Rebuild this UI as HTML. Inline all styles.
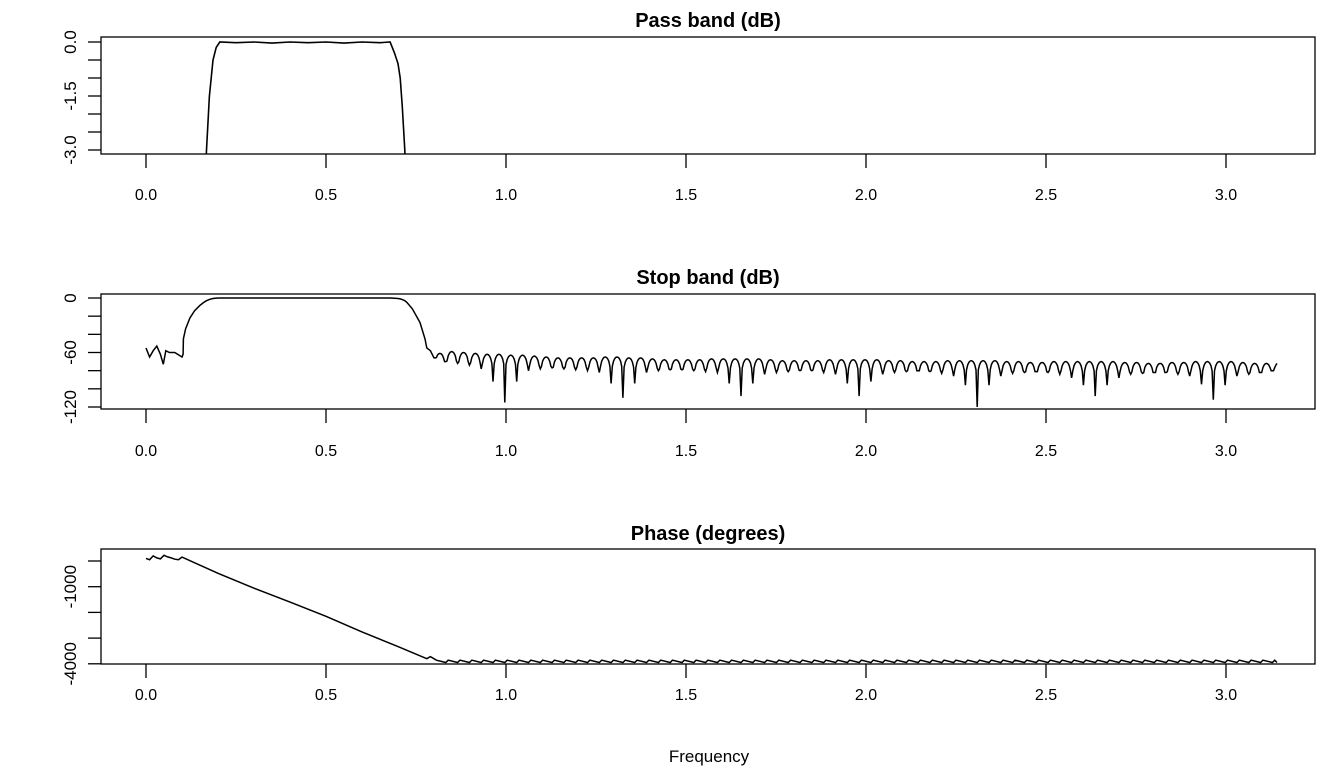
<!DOCTYPE html>
<html><head><meta charset="utf-8">
<style>
html,body{margin:0;padding:0;background:#fff;}
svg{display:block;font-family:"Liberation Sans",Arial,sans-serif;}
</style></head>
<body>
<svg id="chart" width="1344" height="768" viewBox="0 0 1344 768" xmlns="http://www.w3.org/2000/svg"></svg>
<script>
// ---- data ----
const xTicks = [0.0, 0.5, 1.0, 1.5, 2.0, 2.5, 3.0];
const xTickLabels = ["0.0", "0.5", "1.0", "1.5", "2.0", "2.5", "3.0"];
// transition-region magnitude (dB)
const magFreq = [0, 0.01, 0.02, 0.03, 0.04, 0.048, 0.055, 0.065, 0.08, 0.1, 0.103, 0.104, 0.11, 0.122, 0.135, 0.15, 0.16, 0.168, 0.176, 0.186, 0.195, 0.205, 0.25, 0.3, 0.35, 0.4, 0.45, 0.5, 0.55, 0.6, 0.65, 0.678, 0.69, 0.7, 0.706, 0.712, 0.719, 0.725, 0.74, 0.761, 0.775, 0.78, 0.79];
const magDb = [-55, -65, -58, -53, -62, -73, -58, -60, -60, -65, -62, -45, -34, -22, -14, -8, -5, -3, -1.5, -0.5, -0.15, 0, -0.02, 0, -0.03, 0, -0.02, 0, -0.03, 0, -0.02, 0, -0.3, -0.6, -1, -1.8, -3, -5, -12, -27, -45, -55, -58];
// stop-band lobes: nulls start at stopStart with spacing stopStep
const stopStart = 0.8;
const stopStep = 0.0328;
const stopEnd = 3.1416;
const nullDb = [-66,-70,-72,-74,-78,-92,-115,-92,-80,-78,-77,-78,-79,-80,-82,-94,-110,-94,-82,-80,-79,-79,-80,-81,-82,-94,-108,-94,-84,-82,-81,-80,-80,-82,-84,-94,-108,-92,-84,-82,-81,-80,-81,-83,-86,-96,-120,-96,-86,-83,-82,-81,-82,-84,-88,-96,-108,-96,-88,-84,-83,-82,-82,-84,-86,-95,-112,-96,-86,-84,-82,-80];
const peakDb = [-61,-59,-60,-61,-62,-62,-63,-63,-64,-65,-66,-66,-66,-66,-65,-65,-66,-66,-67,-68,-68,-68,-68,-67,-67,-67,-67,-67,-68,-69,-69,-69,-69,-68,-68,-68,-68,-68,-69,-69,-70,-70,-70,-69,-69,-69,-69,-69,-70,-70,-71,-71,-70,-70,-70,-70,-70,-70,-71,-71,-72,-72,-71,-71,-70,-70,-70,-70,-71,-72,-72,-72];
// phase (degrees)
const phaseFreq = [0, 0.01, 0.02, 0.03, 0.04, 0.05, 0.06, 0.07, 0.08, 0.09, 0.1, 0.2, 0.3, 0.4, 0.5, 0.6, 0.7, 0.78, 0.79];
const phaseDeg = [100, 50, 200, 120, 80, 220, 160, 120, 70, 50, 150, -480, -1060, -1600, -2150, -2760, -3330, -3800, -3720];
const stopPhaseHigh = -3860;
const stopPhaseLow = -3950;

// ---- layout ----
const svg = document.getElementById('chart');
const NS = 'http://www.w3.org/2000/svg';
const X0 = 101, X1 = 1315;
const xs = f => 146 + f * 360;
function mk(tag, attrs, parent) {
  const e = document.createElementNS(NS, tag);
  for (const k in attrs) e.setAttribute(k, attrs[k]);
  (parent || svg).appendChild(e);
  return e;
}
function panel(name, title, top, bottom, yTicksPx, yLabels, titleY, xLabelY) {
  const g = mk('g', {});
  
  
  const r = mk('rect', {x: X0, y: top, width: X1 - X0, height: bottom - top, fill: 'none', stroke: '#000', 'stroke-width': 1.3}, g);
  
  
  const t = mk('text', {x: 708, y: titleY, 'text-anchor': 'middle', 'font-size': 20, 'font-weight': 'bold'}, g);
  t.textContent = title;
  
  
  xTicks.forEach((v, i) => {
    const x = xs(v);
    const tk = mk('line', {x1: x, x2: x, y1: bottom, y2: bottom + 14, stroke: '#000', 'stroke-width': 1.3}, g);
    
    
    const tl = mk('text', {x: x, y: xLabelY, 'text-anchor': 'middle', 'font-size': 16}, g);
    tl.textContent = xTickLabels[i];
    
    
  });
  yTicksPx.forEach(y => {
    const tk = mk('line', {x1: 88, x2: X0, y1: y, y2: y, stroke: '#000', 'stroke-width': 1.3}, g);
    
    
  });
  yLabels.forEach(l => {
    const tl = mk('text', {x: 0, y: 0, 'text-anchor': 'middle', 'font-size': 17, transform: 'translate(76,' + l[1] + ') rotate(-90)'}, g);
    tl.textContent = l[0];
    
    
  });
  return g;
}
function clipFor(id, top, bottom) {
  const cp = mk('clipPath', {id: id});
  mk('rect', {x: X0, y: top, width: X1 - X0, height: bottom - top}, cp);
}
function stopBandPoints(ys) {
  const pts = magFreq.map((f, i) => [xs(f), ys(magDb[i])]);
  nullDb.forEach((nd, j) => {
    const f0 = stopStart + j * stopStep;
    const f1 = Math.min(f0 + stopStep, stopEnd);
    const nextNull = j + 1 < nullDb.length ? nullDb[j + 1] : peakDb[j];
    pts.push([xs(f0), ys(nd)]);
    const n = 10;
    for (let s = 1; s < n; s++) {
      const t = s / n;
      const fr = f0 + t * stopStep;
      if (fr > stopEnd) { pts.push([xs(stopEnd), ys(peakDb[j])]); return; }
      let v = peakDb[j] + 20 * Math.log10(Math.max(Math.sin(Math.PI * t), 1e-6));
      v = Math.max(v, t < 0.5 ? nd : nextNull);
      pts.push([xs(fr), ys(v)]);
    }
    if (f0 + stopStep > stopEnd) pts.push([xs(stopEnd), ys(peakDb[j] - 3)]);
  });
  return pts;
}
const toD = pts => pts.map((p, i) => (i ? 'L' : 'M') + p[0].toFixed(1) + ' ' + p[1].toFixed(1)).join(' ');

// Panel 1: pass band
const y1 = v => 42 - v * 36;
const p1 = panel('pass-band-panel', 'Pass band (dB)', 37, 154, [0, -0.5, -1, -1.5, -2, -2.5, -3].map(y1), [['0.0', y1(0)], ['-1.5', y1(-1.5)], ['-3.0', y1(-3)]], 27, 200);
clipFor('c1', 37, 154);
const pts1 = magFreq.map((f, i) => [xs(f), y1(magDb[i])]).filter((p, i) => magFreq[i] > 0.15 && magFreq[i] < 0.74);
const l1 = mk('path', {d: toD(pts1), fill: 'none', stroke: '#000', 'stroke-width': 1.6, 'clip-path': 'url(#c1)'}, p1);



// Panel 2: stop band
const y2 = v => 298 - v * (109 / 120);
const p2 = panel('stop-band-panel', 'Stop band (dB)', 294, 409, [0, -20, -40, -60, -80, -100, -120].map(y2), [['0', y2(0)], ['-60', y2(-60)], ['-120', y2(-120)]], 284, 456);
const l2 = mk('path', {d: toD(stopBandPoints(y2)), fill: 'none', stroke: '#000', 'stroke-width': 1.5}, p2);



// Panel 3: phase
const y3 = v => 561 - v * 0.0257;
const p3 = panel('phase-panel', 'Phase (degrees)', 549, 664, [0, -1000, -2000, -3000, -4000].map(y3), [['-1000', y3(-1000)], ['-4000', y3(-4000)]], 540, 700);
const pts3 = phaseFreq.map((f, i) => [xs(f), y3(phaseDeg[i])]);
nullDb.forEach((nd, j) => {
  const f0 = stopStart + j * stopStep;
  pts3.push([xs(f0 + stopStep * 0.2), y3(stopPhaseHigh)]);
  pts3.push([xs(Math.min(f0 + stopStep, stopEnd)), y3(stopPhaseLow)]);
});
const l3 = mk('path', {d: toD(pts3), fill: 'none', stroke: '#000', 'stroke-width': 1.5}, p3);



const xt = mk('text', {x: 709, y: 762, 'text-anchor': 'middle', 'font-size': 17});
xt.textContent = 'Frequency';


</script>
</body></html>
